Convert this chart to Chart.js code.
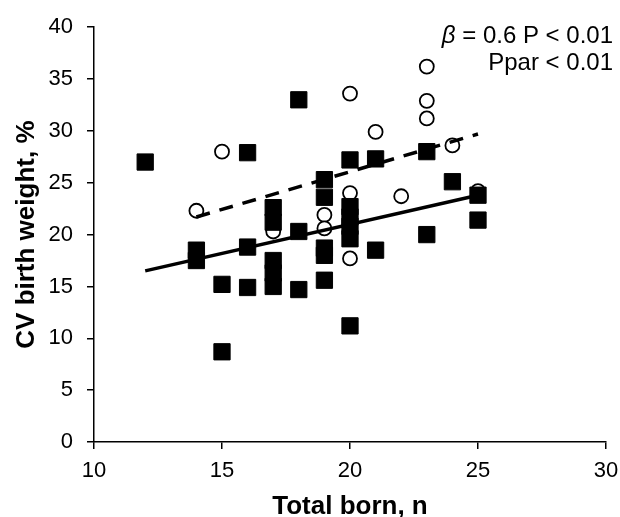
<!DOCTYPE html>
<html>
<head>
<meta charset="utf-8">
<title>CV birth weight vs total born</title>
<script src="https://cdn.jsdelivr.net/npm/chart.js@4"></script>
<style>
  html, body { margin: 0; padding: 0; background: #fff; }
  #wrap { width: 620px; height: 517px; }
</style>
</head>
<body>
<div id="wrap"><canvas id="chart" width="620" height="517"></canvas></div>
<script>
// 實心方塊組
const squareX = [12, 14, 14, 15, 15, 16, 16, 16, 17, 17, 17, 17, 17, 18, 18, 18,
                 19, 19, 19, 19, 19, 20, 20, 20, 20, 20, 20, 21, 21, 23, 23, 24, 25, 25];
const squareY = [27.0, 18.5, 17.5, 15.2, 8.7, 27.9, 18.8, 14.9, 22.6, 21.2, 17.5, 16.3, 15.0, 33.0, 20.3, 14.7,
                 25.3, 23.6, 18.7, 18.0, 15.6, 27.2, 22.7, 21.7, 20.8, 19.6, 11.2, 27.3, 18.5, 28.0, 20.0, 25.1, 23.8, 21.4];
// 空心圓組
const circleX = [14, 15, 17, 19, 19, 20, 20, 20, 21, 22, 23, 23, 23, 24, 25];
const circleY = [22.3, 28.0, 20.3, 21.9, 20.6, 33.6, 24.0, 17.7, 29.9, 23.7, 36.2, 32.9, 31.2, 28.6, 24.2];
// 迴歸線 (兩端點)
const solidLineX = [12, 25];
const solidLineY = [16.5, 23.8];
const dashLineX = [14, 25];
const dashLineY = [21.7, 29.7];
// 座標軸刻度
const xTicks = [10, 15, 20, 25, 30];
const yTicks = [0, 5, 10, 15, 20, 25, 30, 35, 40];
// 標註文字
const statLine1Beta = 'β';
const statLine1Rest = ' = 0.6 P < 0.01';
const statLine2 = 'Ppar < 0.01';

const FONT = 'Arial, "Liberation Sans", sans-serif';
const toPoints = (xs, ys) => xs.map((x, i) => ({ x: x, y: ys[i] }));

// 右上角統計文字
const statsPlugin = {
    id: 'stats',
    afterDraw(chart) {
        const ctx = chart.ctx;
        const right = 613;
        ctx.save();
        ctx.fillStyle = '#000';
        ctx.textAlign = 'right';
        ctx.textBaseline = 'alphabetic';
        ctx.font = '24px ' + FONT;
        const restW = ctx.measureText(statLine1Rest).width;
        ctx.fillText(statLine1Rest, right, 43);
        ctx.font = 'italic 24px ' + FONT;
        ctx.fillText(statLine1Beta, right - restW, 43);
        ctx.font = '24px ' + FONT;
        ctx.fillText(statLine2, right, 70);
        ctx.restore();
    }
};

new Chart(document.getElementById('chart').getContext('2d'), {
    type: 'scatter',
    data: {
        datasets: [
            {
                label: 'squares',
                data: toPoints(squareX, squareY),
                pointStyle: 'rect',
                pointRadius: 11.5,
                pointHoverRadius: 11.5,
                backgroundColor: '#000',
                borderColor: '#000',
                borderWidth: 1
            },
            {
                label: 'solid',
                type: 'line',
                data: toPoints(solidLineX, solidLineY),
                borderColor: '#000',
                borderWidth: 3.5,
                pointRadius: 0,
                fill: false
            },
            {
                label: 'dashed',
                type: 'line',
                data: toPoints(dashLineX, dashLineY),
                borderColor: '#000',
                borderWidth: 3.5,
                borderDash: [14, 10],
                pointRadius: 0,
                fill: false
            },
            {
                label: 'circles',
                data: toPoints(circleX, circleY),
                pointStyle: 'circle',
                pointRadius: 7,
                pointHoverRadius: 7,
                backgroundColor: '#fff',
                borderColor: '#000',
                borderWidth: 1.8
            }
        ]
    },
    options: {
        responsive: false,
        animation: false,
        layout: { padding: { left: 0, top: 24, right: 14, bottom: 0 } },
        plugins: {
            legend: { display: false },
            tooltip: { enabled: false }
        },
        scales: {
            x: {
                type: 'linear',
                min: 10,
                max: 30,
                afterBuildTicks: scale => { scale.ticks = xTicks.map(v => ({ value: v })); },
                afterFit: scale => {
                    scale.height = 75;
                    scale.paddingLeft = 0;
                    scale.paddingRight = 0;
                },
                grid: { drawOnChartArea: false, drawTicks: true, tickLength: 7, color: '#000', lineWidth: 1.5 },
                border: { display: true, color: '#000', width: 1.5 },
                ticks: { color: '#000', padding: 9, maxRotation: 0, font: { family: FONT, size: 22 } },
                title: {
                    display: true,
                    text: 'Total born, n',
                    color: '#000',
                    padding: { top: 0, bottom: -3 },
                    font: { family: FONT, size: 26, weight: 'bold', lineHeight: 1 }
                }
            },
            y: {
                type: 'linear',
                min: 0,
                max: 40,
                afterBuildTicks: scale => { scale.ticks = yTicks.map(v => ({ value: v })); },
                afterFit: scale => { scale.width = 94; },
                grid: { drawOnChartArea: false, drawTicks: true, tickLength: 7, color: '#000', lineWidth: 1.5 },
                border: { display: true, color: '#000', width: 1.5 },
                ticks: { color: '#000', padding: 14, font: { family: FONT, size: 22 } },
                title: {
                    display: true,
                    text: 'CV birth weight, %',
                    color: '#000',
                    padding: { top: 14, bottom: 0 },
                    font: { family: FONT, size: 26, weight: 'bold', lineHeight: 1 }
                }
            }
        }
    },
    plugins: [statsPlugin]
});
</script>
</body>
</html>
